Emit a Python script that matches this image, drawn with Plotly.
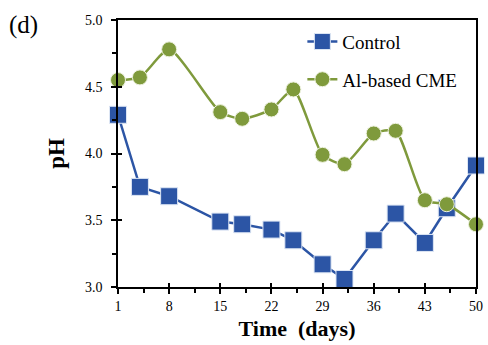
import plotly.graph_objects as go

days = [1, 4, 8, 15, 18, 22, 25, 29, 32, 36, 39, 43, 46, 50]
control = [4.29, 3.75, 3.68, 3.49, 3.47, 3.43, 3.35, 3.17, 3.06, 3.35, 3.55, 3.33, 3.59, 3.91]
al_cme = [4.55, 4.57, 4.78, 4.31, 4.26, 4.33, 4.48, 3.99, 3.92, 4.15, 4.17, 3.65, 3.62, 3.47]
x_ticks = [1, 8, 15, 22, 29, 36, 43, 50]
y_ticks = [3.0, 3.5, 4.0, 4.5, 5.0]

BLUE = "#2C55A5"
GREEN = "#7F9A3C"
FONT = "Liberation Serif"

fig = go.Figure()
fig.add_trace(go.Scatter(
    x=days, y=control, name="Control", mode="lines+markers", legendgroup="a",
    line=dict(color=BLUE, width=2.5),
    marker=dict(symbol="square", size=17, color=BLUE, line=dict(color="#DDE6F4", width=1)),
    cliponaxis=False,
))
fig.add_trace(go.Scatter(
    x=days, y=al_cme, name="Al-based CME", mode="lines+markers", legendgroup="b",
    line=dict(color=GREEN, width=2.5, shape="spline", smoothing=0.6),
    marker=dict(symbol="circle", size=15, color=GREEN, line=dict(color="#EEF2E0", width=1)),
    cliponaxis=False,
))

axis_common = dict(showgrid=False, zeroline=False, linecolor="black", linewidth=1.5,
                   tickcolor="black", tickwidth=1.5, ticklen=5)

fig.update_layout(
    width=488, height=345,
    margin=dict(l=118, r=5, t=20, b=58),
    paper_bgcolor="white", plot_bgcolor="white",
    font=dict(family=FONT, color="black"),
    showlegend=True,
    legend=dict(x=0.515, y=0.99, xanchor="left", yanchor="top",
                font=dict(family=FONT, size=19, color="black"),
                bgcolor="rgba(0,0,0,0)", itemwidth=30, tracegroupgap=10),
    xaxis=dict(range=[1, 50], tickvals=x_ticks, ticks="outside",
               tickfont=dict(family=FONT, size=14), mirror=True, showline=True,
               minor=dict(dtick=3.5, tick0=1, ticks="outside", ticklen=4, tickcolor="black"),
               title=dict(text="<b>Time  (days)</b>", font=dict(family=FONT, size=22), standoff=8),
               **axis_common),
    yaxis=dict(range=[3.0, 5.0], tickvals=y_ticks, tickformat=".1f", ticks="outside",
               tickfont=dict(family=FONT, size=14), mirror=True, showline=True,
               ticklabelstandoff=6,
               minor=dict(dtick=0.25, ticks="outside", ticklen=4, tickcolor="black"),
               title=dict(text="<b>pH</b>", font=dict(family=FONT, size=23), standoff=14),
               **axis_common),
    xaxis2=dict(range=[1, 50], overlaying="x", tickvals=x_ticks, ticks="inside",
                showticklabels=False, showline=False, showgrid=False, zeroline=False,
                tickcolor="black", tickwidth=1.5, ticklen=4),
    yaxis2=dict(range=[3.0, 5.0], overlaying="y", tickvals=y_ticks, ticks="inside",
                showticklabels=False, showline=False, showgrid=False, zeroline=False,
                tickcolor="black", tickwidth=1.5, ticklen=4),
    annotations=[dict(text="(d)", xref="paper", yref="paper", x=-0.31, y=1.04,
                      xanchor="left", yanchor="top", showarrow=False,
                      font=dict(family=FONT, size=25))],
)
# invisible trace to activate overlay axes
fig.add_trace(go.Scatter(x=[None], y=[None], xaxis="x2", yaxis="y2", showlegend=False, hoverinfo="skip"))

fig.write_html("out.html")
